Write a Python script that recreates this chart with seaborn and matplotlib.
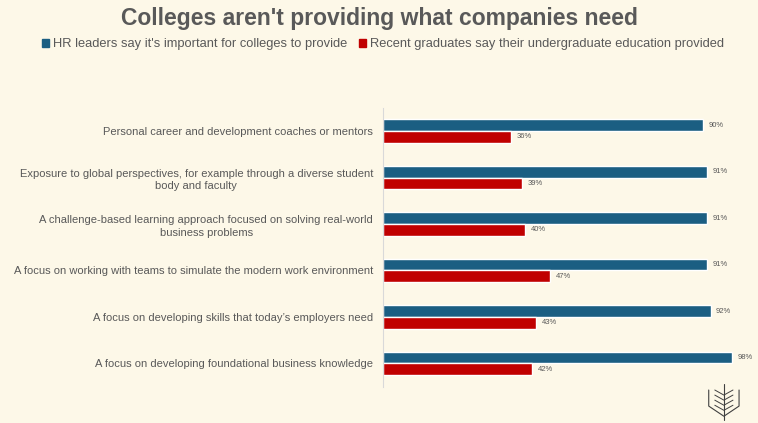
import seaborn as sns
import matplotlib.pyplot as plt
import pandas as pd
from matplotlib.patches import Patch

# Survey items, top to bottom
items = [
    "Personal career and development coaches or mentors",
    "Exposure to global perspectives, for example through a diverse student\nbody and faculty",
    "A challenge-based learning approach focused on solving real-world\nbusiness problems",
    "A focus on working with teams to simulate the modern work environment",
    "A focus on developing skills that today\u2019s employers need",
    "A focus on developing foundational business knowledge",
]
hr_leaders = [90, 91, 91, 91, 92, 98]
graduates = [36, 39, 40, 47, 43, 42]
series = ["HR leaders say it's important for colleges to provide",
          "Recent graduates say their undergraduate education provided"]

bg = "#FDF8E8"
blue = "#1B5E82"
red = "#C00000"
grey = "#595959"

sns.set_theme(style="white", rc={"axes.facecolor": bg, "figure.facecolor": bg})
plt.rcParams["font.family"] = ["Liberation Sans", "DejaVu Sans"]

df = pd.DataFrame({
    "item": items * 2,
    "value": hr_leaders + graduates,
    "series": [series[0]] * len(items) + [series[1]] * len(items),
})

fig = plt.figure(figsize=(7.58, 4.23), dpi=100)
ax = fig.add_axes([0.505, 0.086, 0.47, 0.659])

sns.barplot(data=df, y="item", x="value", hue="series", order=items,
            hue_order=series, palette=[blue, red], width=0.5, orient="h",
            saturation=1, ax=ax, legend=False)

for cont in ax.containers:
    ax.bar_label(cont, labels=[f"{v:.0f}%" for v in cont.datavalues],
                 padding=4, fontsize=5.5, color=grey)

ax.set_xlim(0, 100)
ax.set_ylim(len(items) - 0.5, -0.5)
ax.set_xlabel("")
ax.set_ylabel("")
ax.set_xticks([])
for s in ["top", "right", "bottom"]:
    ax.spines[s].set_visible(False)
ax.spines["left"].set_color("#D9D9D9")
ax.spines["left"].set_linewidth(0.8)
ax.tick_params(axis="y", length=0, pad=7, labelsize=8, labelcolor=grey)
for lab in ax.get_yticklabels():
    lab.set_multialignment("center")
    lab.set_linespacing(1.35)

fig.text(0.5, 0.957, "Colleges aren't providing what companies need",
         ha="center", va="center", fontsize=16.5, fontweight="bold", color=grey)

handles = [Patch(color=blue), Patch(color=red)]
fig.legend(handles, series, loc="center", bbox_to_anchor=(0.505, 0.895), ncol=2,
           frameon=False, fontsize=9.25, handlelength=0.55, handleheight=0.55,
           handletextpad=0.3, columnspacing=0.9, labelcolor=grey)

# small shield logo at bottom right
lx = 0.955
logo = dict(transform=fig.transFigure, color="#404040", lw=0.8)
fig.lines.append(plt.Line2D([lx - 0.02, lx - 0.02, lx, lx + 0.02, lx + 0.02],
                            [0.078, 0.04, 0.016, 0.04, 0.078], **logo))
fig.lines.append(plt.Line2D([lx, lx], [0.006, 0.092], **logo))
for k in range(4):
    yy = 0.03 + k * 0.012
    fig.lines.append(plt.Line2D([lx - 0.012, lx, lx + 0.012], [yy + 0.012, yy, yy + 0.012],
                                transform=fig.transFigure, color="#404040", lw=0.7))

fig.savefig("out.png", dpi=100, facecolor=bg)
